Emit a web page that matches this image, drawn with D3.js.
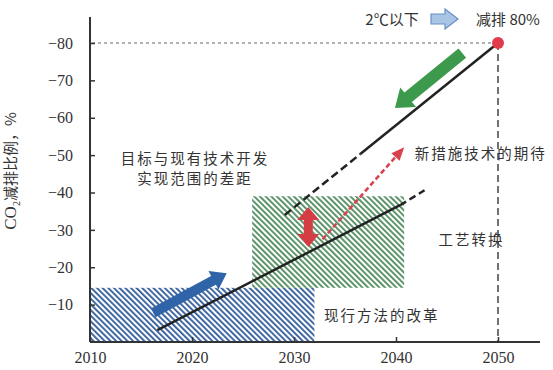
<!DOCTYPE html>
<html>
<head>
<meta charset="utf-8">
<script src="https://cdn.jsdelivr.net/npm/d3@7"></script>
<style>
    body { margin: 0; background: #fff; }
    text { font-family: "Noto Sans CJK SC", sans-serif; fill: #333; }
</style>
</head>
<body>
<div id="chart"></div>
<script>
// Axis ticks
var yearTicks = [2010, 2020, 2030, 2040, 2050];
var pctTicks = [-10, -20, -30, -40, -50, -60, -70, -80];

// Reduction pathways: [year, % reduction]
var targetPath = [[2029.1, -34], [2036.5, -50.3], [2050, -80]];      // dashed first segment, solid rest
var currentPath = [[2016.6, -3.2], [2040.4, -36.6], [2042.8, -40.6]]; // solid, then dashed tail

// Hatched zones: [yearFrom, yearTo, pctFrom, pctTo]
var zoneReform = [2010, 2032, 0, -14.5];
var zoneConversion = [2025.9, 2040.8, -14.5, -39];

// Annotation arrows: [tailYear, tailPct, tipYear, tipPct]
var blueArrow = [2016.2, -7.8, 2023.4, -18.4];
var greenArrow = [2046.5, -77.3, 2039.9, -62.6];
var gapArrow = [2031.4, -25.4, 2031.4, -36.1];
var newTechArrow = [2032.8, -27.5, 2040.8, -52.1];

// Target point
var targetPoint = [2050, -80];

var labels = [
    { text: "目标与现有技术开发", year: 2020.3, pct: -49.3 },
    { text: "实现范围的差距", year: 2020.3, pct: -43.9 },
    { text: "新措施技术的期待", year: 2048.3, pct: -50.6 },
    { text: "工艺转换", year: 2047.4, pct: -27.8 },
    { text: "现行方法的改革", year: 2038.6, pct: -7.4 }
];

var width = 553, height = 370;

var svg = d3.select('#chart').append('svg')
    .attr('width', width)
    .attr('height', height);

var x = d3.scaleLinear().domain([2010, 2050]).range([90, 498]);
var y = d3.scaleLinear().domain([0, -80]).range([342, 43]);

// Hatch patterns
var defs = svg.append('defs');
function makeHatch(id, color) {
    var p = defs.append('pattern')
        .attr('id', id)
        .attr('patternUnits', 'userSpaceOnUse')
        .attr('width', 4).attr('height', 4)
        .attr('patternTransform', 'rotate(-45)');
    p.append('rect').attr('width', 4).attr('height', 4).attr('fill', '#fff');
    p.append('rect').attr('width', 1.8).attr('height', 4).attr('fill', color);
} // makeHatch()
makeHatch('hatchBlue', '#2f5a9a');
makeHatch('hatchGreen', '#4d8a5c');

function drawZone(z, fill) {
    svg.append('rect')
        .attr('x', x(z[0]))
        .attr('y', y(z[3]))
        .attr('width', x(z[1]) - x(z[0]))
        .attr('height', y(z[2]) - y(z[3]))
        .attr('fill', fill);
} // drawZone()
drawZone(zoneReform, 'url(#hatchBlue)');
drawZone(zoneConversion, 'url(#hatchGreen)');

// Reference lines to the 2050 target
svg.append('line')
    .attr('x1', x(2010) + 2).attr('y1', y(targetPoint[1]))
    .attr('x2', x(targetPoint[0])).attr('y2', y(targetPoint[1]))
    .attr('stroke', '#666').attr('stroke-width', 1.2)
    .attr('stroke-dasharray', '3,3');
svg.append('line')
    .attr('x1', x(targetPoint[0])).attr('y1', y(targetPoint[1]))
    .attr('x2', x(targetPoint[0])).attr('y2', y(0))
    .attr('stroke', '#444').attr('stroke-width', 1.5)
    .attr('stroke-dasharray', '7,4');

// Block arrow helper (pixel coords)
function blockArrow(x1, y1, x2, y2, sw, hw, hl, twoHeads) {
    var dx = x2 - x1, dy = y2 - y1;
    var len = Math.sqrt(dx * dx + dy * dy);
    var ux = dx / len, uy = dy / len;
    var nx = -uy, ny = ux;
    function pt(along, side) {
        return [x1 + ux * along + nx * side, y1 + uy * along + ny * side];
    }
    var pts = [];
    if (twoHeads) {
        pts.push(pt(0, 0), pt(hl, hw / 2), pt(hl, sw / 2));
    } else {
        pts.push(pt(0, sw / 2));
    }
    pts.push(pt(len - hl, sw / 2), pt(len - hl, hw / 2), pt(len, 0),
             pt(len - hl, -hw / 2), pt(len - hl, -sw / 2));
    if (twoHeads) {
        pts.push(pt(hl, -sw / 2), pt(hl, -hw / 2));
    } else {
        pts.push(pt(0, -sw / 2));
    }
    return pts.map(function(p) { return p[0].toFixed(1) + ',' + p[1].toFixed(1); }).join(' ');
} // blockArrow()

// Pathway lines
var line = d3.line()
    .x(function(d) { return x(d[0]); })
    .y(function(d) { return y(d[1]); });

svg.append('path').attr('d', line(targetPath.slice(0, 2)))
    .attr('fill', 'none').attr('stroke', '#222').attr('stroke-width', 2.5)
    .attr('stroke-dasharray', '8,4');
svg.append('path').attr('d', line(targetPath.slice(1)))
    .attr('fill', 'none').attr('stroke', '#222').attr('stroke-width', 2.5);
svg.append('path').attr('d', line(currentPath.slice(0, 2)))
    .attr('fill', 'none').attr('stroke', '#222').attr('stroke-width', 2.5);
svg.append('path').attr('d', line(currentPath.slice(1)))
    .attr('fill', 'none').attr('stroke', '#222').attr('stroke-width', 2.5)
    .attr('stroke-dasharray', '7,4');

// Red dashed "new technology" arrow
(function() {
    var x1 = x(newTechArrow[0]), y1 = y(newTechArrow[1]);
    var x2 = x(newTechArrow[2]), y2 = y(newTechArrow[3]);
    var dx = x2 - x1, dy = y2 - y1, len = Math.sqrt(dx * dx + dy * dy);
    var ux = dx / len, uy = dy / len;
    svg.append('line')
        .attr('x1', x1).attr('y1', y1)
        .attr('x2', x2 - ux * 9).attr('y2', y2 - uy * 9)
        .attr('stroke', '#d8424c').attr('stroke-width', 2.5)
        .attr('stroke-dasharray', '5,3');
    svg.append('polygon')
        .attr('points', blockArrow(x2 - ux * 13, y2 - uy * 13, x2, y2, 0, 11, 13, false))
        .attr('fill', '#d8424c');
})();

// Block arrows
svg.append('polygon')
    .attr('points', blockArrow(x(blueArrow[0]), y(blueArrow[1]), x(blueArrow[2]), y(blueArrow[3]), 10, 21, 15, false))
    .attr('fill', '#2f64a8');
svg.append('polygon')
    .attr('points', blockArrow(x(greenArrow[0]), y(greenArrow[1]), x(greenArrow[2]), y(greenArrow[3]), 12, 25, 17, false))
    .attr('fill', '#3d9a4c');
svg.append('polygon')
    .attr('points', blockArrow(x(gapArrow[0]), y(gapArrow[1]), x(gapArrow[2]), y(gapArrow[3]), 9, 22, 13, true))
    .attr('fill', '#d63c44');

// Target dot
svg.append('circle')
    .attr('cx', x(targetPoint[0])).attr('cy', y(targetPoint[1]))
    .attr('r', 6).attr('fill', '#e23b4b');

// Axes
svg.append('line')
    .attr('x1', x(2010)).attr('y1', 17).attr('x2', x(2010)).attr('y2', y(0))
    .attr('stroke', '#333').attr('stroke-width', 2);
svg.append('line')
    .attr('x1', x(2010)).attr('y1', y(0)).attr('x2', 540).attr('y2', y(0))
    .attr('stroke', '#333').attr('stroke-width', 2);

function styleAxis(g) {
    g.select('.domain').remove();
    g.selectAll('line').attr('stroke', '#333').attr('stroke-width', 1.5);
    g.selectAll('text')
        .attr('fill', '#333')
        .style('font-family', '"Liberation Serif", serif')
        .style('font-size', '16px');
} // styleAxis()

var yAxis = svg.append('g')
    .attr('transform', 'translate(' + x(2010) + ',0)')
    .call(d3.axisLeft(y).tickValues(pctTicks).tickSize(-5).tickPadding(17)
        .tickFormat(function(d) { return '\u2212' + Math.abs(d); }));
styleAxis(yAxis);

var xAxis = svg.append('g')
    .attr('transform', 'translate(0,' + y(0) + ')')
    .call(d3.axisBottom(x).tickValues(yearTicks).tickSize(-5).tickPadding(10)
        .tickFormat(d3.format('d')));
styleAxis(xAxis);

// Y axis title
var yTitle = svg.append('text')
    .attr('transform', 'translate(16,171) rotate(-90)')
    .attr('text-anchor', 'middle')
    .style('font-size', '15px');
yTitle.append('tspan').style('font-family', '"Liberation Serif", serif').style('font-size', '17px').text('CO');
yTitle.append('tspan').style('font-family', '"Liberation Serif", serif').attr('dy', 4).style('font-size', '10px').text('2');
yTitle.append('tspan').attr('dy', -4).text('减排比例，%');

// Annotation labels
svg.selectAll('text.note')
    .data(labels)
    .enter()
    .append('text')
        .attr('class', 'note')
        .attr('x', function(d) { return x(d.year); })
        .attr('y', function(d) { return y(d.pct); })
        .attr('text-anchor', 'middle')
        .attr('dominant-baseline', 'central')
        .style('font-size', '14.5px')
        .style('letter-spacing', '2px')
        .text(function(d) { return d.text; });

// Header: 2℃ target
svg.append('text').attr('x', 392).attr('y', 18)
    .attr('text-anchor', 'middle').attr('dominant-baseline', 'central')
    .style('font-size', '15px').text('2℃以下');
svg.append('polygon')
    .attr('points', '431,14 445,14 445,9 458,19 445,29 445,24 431,24')
    .attr('fill', '#a9c5e6').attr('stroke', '#6b90c6').attr('stroke-width', 1.2);
svg.append('text').attr('x', 508).attr('y', 18)
    .attr('text-anchor', 'middle').attr('dominant-baseline', 'central')
    .style('font-size', '15px').text('减排 80%');
</script>
</body>
</html>
